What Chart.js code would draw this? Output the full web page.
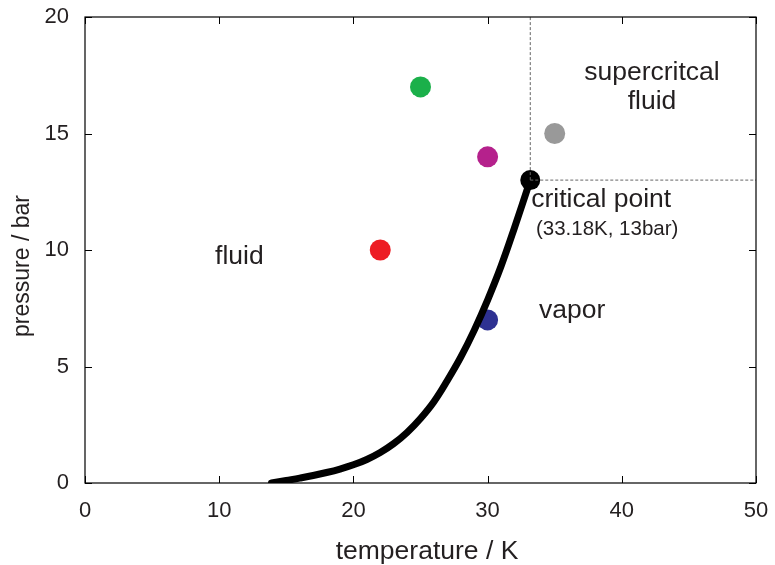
<!DOCTYPE html>
<html>
<head>
<meta charset="utf-8">
<script src="https://cdn.jsdelivr.net/npm/chart.js@4.4.0/dist/chart.umd.min.js"></script>
<style>
    body { margin: 0; background: #fff; }
    #phase { display: block; }
</style>
</head>
<body>
<canvas id="phase" width="775" height="565"></canvas>
<script>
    // Vapor pressure curve (temperature K, pressure bar)
    var curveT = [13.9, 15, 16, 17, 18, 19, 20, 21, 22, 23, 24, 25, 26, 27, 28, 29, 30, 31, 32, 33.18];
    var curveP = [0, 0.11, 0.21, 0.32, 0.45, 0.6, 0.78, 1.01, 1.31, 1.69, 2.17, 2.77, 3.49, 4.4, 5.4, 6.55, 7.85, 9.3, 10.95, 13];

    // State points
    var stateT = [22, 25, 30, 35, 30];
    var stateP = [10, 17, 14, 15, 7];
    var stateColors = ["#ed1c24", "#1bb04a", "#b5218c", "#999999", "#2e3192"];

    // Critical point
    var critT = 33.18;
    var critP = 13;

    // Axis ticks
    var xTicks = [0, 10, 20, 30, 40, 50];
    var yTicks = [0, 5, 10, 15, 20];

    // Text labels (data coords)
    var notes = [
        { text: "supercritcal", x: 42.25, y: 17.6, size: 26.5, align: "center" },
        { text: "fluid", x: 42.25, y: 16.35, size: 26.5, align: "center" },
        { text: "critical point", x: 33.25, y: 12.15, size: 26.5, align: "left" },
        { text: "(33.18K, 13bar)", x: 33.6, y: 10.9, size: 20.5, align: "left" },
        { text: "fluid", x: 11.5, y: 9.7, size: 26.5, align: "center" },
        { text: "vapor", x: 36.3, y: 7.4, size: 26.5, align: "center" }
    ];

    var textColor = "#231f20";
    var fontFamily = "'Liberation Sans', Arial, Helvetica, sans-serif";

    function toXY(xs, ys) {
        return xs.map(function (x, i) { return { x: x, y: ys[i] }; });
    }

    // Frame, inward ticks, axis titles and labels
    var framePlugin = {
        id: "frame",
        afterDatasetsDraw: function (chart) {
            var ctx = chart.ctx;
            var a = chart.chartArea;
            var sx = chart.scales.x, sy = chart.scales.y;
            ctx.save();
            ctx.strokeStyle = "#000";
            ctx.lineWidth = 1.2;
            ctx.strokeRect(a.left, a.top, a.right - a.left, a.bottom - a.top);
            ctx.lineWidth = 1;
            var len = 7;
            ctx.beginPath();
            xTicks.forEach(function (v) {
                var px = Math.round(sx.getPixelForValue(v)) + 0.5;
                ctx.moveTo(px, a.bottom); ctx.lineTo(px, a.bottom - len);
                ctx.moveTo(px, a.top); ctx.lineTo(px, a.top + len);
            });
            yTicks.forEach(function (v) {
                var py = Math.round(sy.getPixelForValue(v)) + 0.5;
                ctx.moveTo(a.left, py); ctx.lineTo(a.left + len, py);
                ctx.moveTo(a.right, py); ctx.lineTo(a.right - len, py);
            });
            ctx.stroke();

            ctx.fillStyle = textColor;
            ctx.textBaseline = "middle";
            notes.forEach(function (n) {
                ctx.font = n.size + "px " + fontFamily;
                ctx.textAlign = n.align;
                ctx.fillText(n.text, sx.getPixelForValue(n.x), sy.getPixelForValue(n.y));
            });

            // axis titles
            ctx.textAlign = "center";
            ctx.textBaseline = "alphabetic";
            ctx.font = "26.5px " + fontFamily;
            ctx.fillText("temperature / K", 427, 559);
            ctx.translate(29, 266);
            ctx.rotate(-Math.PI / 2);
            ctx.font = "23px " + fontFamily;
            ctx.fillText("pressure / bar", 0, 0);
            ctx.restore();
        }
    };

    var ctx1 = document.getElementById("phase").getContext("2d");
    var myChart1 = new Chart(ctx1, {
        type: "scatter",
        data: {
            datasets: [
                {
                    label: "vline",
                    data: [{ x: critT, y: critP }, { x: critT, y: 20 }],
                    showLine: true,
                    borderColor: "#666",
                    borderWidth: 1,
                    borderDash: [3, 2],
                    pointRadius: 0
                },
                {
                    label: "hline",
                    data: [{ x: critT, y: critP }, { x: 50, y: critP }],
                    showLine: true,
                    borderColor: "#666",
                    borderWidth: 1,
                    borderDash: [3, 2],
                    pointRadius: 0
                },
                {
                    label: "curve",
                    data: toXY(curveT, curveP),
                    showLine: true,
                    borderColor: "#000",
                    borderWidth: 7,
                    borderCapStyle: "round",
                    borderJoinStyle: "round",
                    tension: 0.4,
                    pointRadius: 0
                },
                {
                    label: "states",
                    data: toXY(stateT, stateP),
                    backgroundColor: stateColors,
                    borderWidth: 0,
                    pointRadius: 10.5
                },
                {
                    label: "critical",
                    data: [{ x: critT, y: critP }],
                    backgroundColor: "#000",
                    borderWidth: 0,
                    pointRadius: 10
                }
            ]
        },
        options: {
            responsive: false,
            animation: false,
            layout: { padding: { top: 17, right: 19, left: 0, bottom: 0 } },
            plugins: {
                legend: { display: false },
                tooltip: { enabled: false }
            },
            scales: {
                x: {
                    type: "linear",
                    min: 0,
                    max: 50,
                    afterFit: function (s) {
                        s.height = 82;
                        s.paddingLeft = 0;
                        s.paddingRight = 0;
                    },
                    ticks: {
                        stepSize: 10,
                        padding: 15,
                        color: textColor,
                        font: { family: fontFamily, size: 22 }
                    },
                    grid: { drawOnChartArea: false, drawTicks: false },
                    border: { display: false }
                },
                y: {
                    type: "linear",
                    min: 0,
                    max: 20,
                    afterFit: function (s) {
                        s.width = 85;
                        s.paddingTop = 0;
                        s.paddingBottom = 0;
                    },
                    ticks: {
                        stepSize: 5,
                        padding: 16,
                        color: textColor,
                        font: { family: fontFamily, size: 22 }
                    },
                    grid: { drawOnChartArea: false, drawTicks: false },
                    border: { display: false }
                }
            }
        },
        plugins: [framePlugin]
    });
</script>
</body>
</html>
